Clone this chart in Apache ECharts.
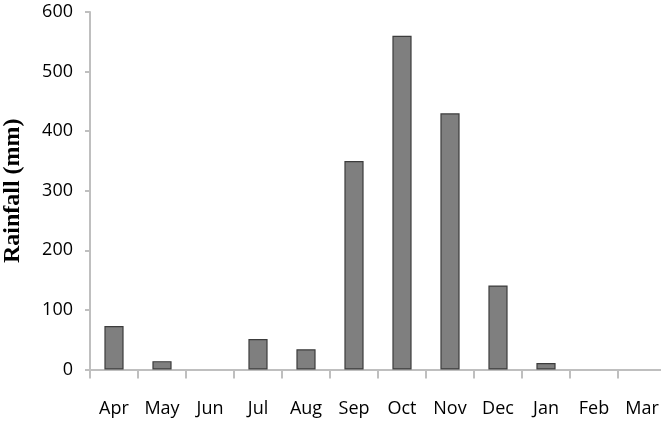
<!DOCTYPE html>
<html>
<head>
<meta charset="utf-8">
<script src="https://cdn.jsdelivr.net/npm/echarts@6/dist/echarts.min.js"></script>
<style>html,body{margin:0;padding:0;background:#fff;overflow:hidden}#c{width:661px;height:421px}</style>
</head>
<body>
<div id="c"></div>
<script>
var months = ['Apr','May','Jun','Jul','Aug','Sep','Oct','Nov','Dec','Jan','Feb','Mar'];
var rainfall = [73, 14, 0, 51, 34, 350, 560, 430, 141, 11, 0, 0];
var yTicks = {min: 0, max: 600, interval: 100};
var yTitle = 'Rainfall (mm)';

var chart = echarts.init(document.getElementById('c'), null, {renderer: 'canvas'});
chart.setOption({
  animation: false,
  grid: {left: 90, right: -5, top: 12, bottom: 51.5, containLabel: false, outerBoundsMode: 'none'},
  xAxis: {
    type: 'category',
    data: months,
    boundaryGap: true,
    axisLine: {lineStyle: {color: '#bfbfbf', width: 2}},
    axisTick: {show: true, alignWithLabel: false, length: 9, inside: false, lineStyle: {color: '#bfbfbf', width: 2}},
    axisLabel: {color: '#000', fontFamily: 'Open Sans', fontSize: 18, margin: 30}
  },
  yAxis: {
    type: 'value',
    min: yTicks.min, max: yTicks.max, interval: yTicks.interval,
    name: yTitle,
    nameLocation: 'middle',
    nameGap: 65,
    nameTextStyle: {fontFamily: 'Liberation Serif', fontWeight: 'bold', fontSize: 24, color: '#000'},
    axisLine: {show: true, lineStyle: {color: '#bfbfbf', width: 2}},
    axisTick: {show: true, length: 5, lineStyle: {color: '#bfbfbf', width: 2}},
    splitLine: {show: false},
    axisLabel: {color: '#000', fontFamily: 'Open Sans', fontSize: 18, margin: 17}
  },
  series: [{
    type: 'bar',
    data: rainfall.map(function (v) {
      return v === 0 ? {value: v, itemStyle: {borderWidth: 0}} : v;
    }),
    barWidth: '40%',
    itemStyle: {color: '#7f7f7f', borderColor: '#3c3c3c', borderWidth: 1.2}
  }]
});
</script>
</body>
</html>
